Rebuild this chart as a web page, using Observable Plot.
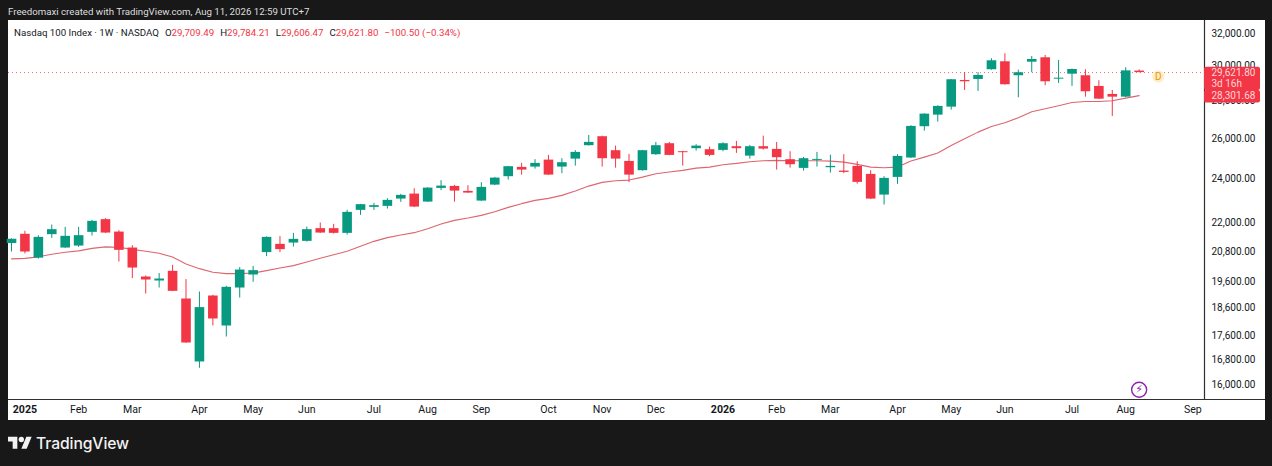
<!DOCTYPE html>
<html>
<head>
<meta charset="utf-8">
<script src="https://cdn.jsdelivr.net/npm/d3@7"></script>
<script src="https://cdn.jsdelivr.net/npm/@observablehq/plot@0.6"></script>
<style>
  html, body { margin: 0; padding: 0; background: #181818; width: 1272px; height: 466px; overflow: hidden; font-family: Roboto, sans-serif; }
  #head { height: 20px; line-height: 24px; padding-left: 8px; font-size: 9.7px; color: #dedede; white-space: nowrap; box-sizing: border-box; }
  #chart { position: relative; margin-left: 8px; width: 1257px; height: 400px; background: #fff; }
  #chart svg { display: block; }
  #legend { position: absolute; left: 6px; top: 6px; font-size: 9.7px; line-height: 14px; color: #131722; white-space: nowrap; }
  #legend span.v { color: #f23645; }
  #legend span.g { margin-left: 6px; }
  #foot { display: flex; align-items: center; height: 46px; padding-left: 8px; color: #f2f2f2; font-family: Inter, sans-serif; font-size: 15.7px; font-weight: 500; letter-spacing: -0.1px; }
  #foot svg { margin-right: 4px; }
</style>
</head>
<body>
<div id="head">Freedomaxi created with TradingView.com, Aug 11, 2026 12:59 UTC+7</div>
<div id="chart">
  <div id="legend">Nasdaq 100 Index · 1W · NASDAQ<span class="g">O</span><span class="v">29,709.49</span><span class="g">H</span><span class="v">29,784.21</span><span class="g">L</span><span class="v">29,606.47</span><span class="g">C</span><span class="v">29,621.80</span><span class="g v">−100.50 (−0.34%)</span></div>
</div>
<div id="foot"><svg width="24" height="19" viewBox="0 0 36 28" fill="#f2f2f2"><path d="M14 22H7V11H0V4h14v18zM28 22h-8l7.5-18h8L28 22z"/><circle cx="20" cy="8" r="4"/></svg>TradingView</div>
<script>
const firstWeek = "2024-12-30";
const opens = [21130,21520,20530,21505,20944,21026,21603,22152,21615,20944,19779,19623,20002,18937,16722,19050,17954,19353,19857,20755,21097,21151,21222,21761,21761,21560,22562,22696,22741,23071,23300,22934,23563,23656,23424,22980,23717,24114,24561,24576,24918,24576,24967,25637,26096,25385,24854,24402,25185,25738,25335,25486,25435,25400,25586,25115,25586,25450,24938,24513,24903,24546,24382,24610,24224,23254,24081,25021,26617,27233,27667,29164,29222,29787,30261,29437,30237,30500,29239,29528,29437,28821,28369,28218,29709.49];
const highs = [21330,21650,21460,21917,21817,21817,22121,22195,21675,21043,19818,19912,20240,19677,19200,19076,19419,20148,20200,21410,21420,21560,21830,22004,21947,22562,22831,22876,23089,23286,23548,23595,23925,23703,23689,23830,24081,24610,24756,24938,25150,24987,25385,26163,26127,25617,25200,25400,25804,25804,25350,25687,25566,25788,25855,25652,26127,25804,25335,25051,25300,25165,25185,24839,24402,24114,25185,26669,27309,27744,29222,29629,29612,30440,30743,29764,30580,30640,30339,29823,29787,29147,28594,29906,29784.21];
const lows = [20780,20700,20490,21349,20931,20973,21445,21560,20373,19716,19125,19353,19216,17351,16515,17954,17568,18974,19573,20591,20755,20986,21193,21560,21530,21488,22340,22562,22620,22921,22683,22921,23456,22934,23332,22966,23689,23953,24190,24478,24176,24258,24624,25620,24576,24527,23830,24382,25150,25135,24624,25365,25086,25335,25250,24967,25415,24430,24527,24382,24576,24287,24258,23764,23057,22800,23750,25002,26386,26860,27503,28594,28538,29764,28895,28183,29612,28861,28992,28821,28218,28090,27163,28183,29606.47];
const closes = [21310,20780,21390,21718,21433,21462,22077,21573,20849,20132,19662,19701,19227,17361,18618,18204,19380,20053,20029,21390,20878,21306,21718,21573,21560,22473,22818,22773,23012,23240,22709,23577,23670,23438,23346,23610,24048,24595,24430,24756,24190,24790,25300,25804,24987,24967,24190,25385,25637,25150,25285,25617,25150,25738,25486,25586,25466,25036,24692,24987,24952,24610,24320,23845,23071,24034,25101,26633,27287,27705,29205,29089,29454,30321,28918,29612,30399,29089,29296,29805,28520,28107,28218,29722.30,29621.80];
const movingAverage = [20502,20522,20583,20685,20767,20828,20931,20993,20973,20890,20808,20726,20575,20292,20108,19963,19912,19912,19935,20029,20132,20228,20373,20522,20664,20808,21014,21222,21378,21488,21590,21761,21960,22121,22222,22340,22504,22696,22863,23012,23103,23240,23438,23670,23845,23925,23953,24095,24258,24336,24416,24527,24576,24692,24756,24839,24888,24903,24888,24888,24888,24869,24820,24707,24576,24546,24576,24869,25066,25265,25652,25993,26334,26633,26827,27093,27417,27581,27744,27925,27980,27980,28018,28163,28301.68];
const priceTicks = [32000,30000,28000,26000,24000,22000,20800,19600,18600,17600,16800,16000];
const monthTicks = ["2025-02-03","2025-03-03","2025-04-07","2025-05-05","2025-06-02","2025-07-07","2025-08-04","2025-09-01","2025-10-06","2025-11-03","2025-12-01","2026-02-02","2026-03-02","2026-04-06","2026-05-04","2026-06-01","2026-07-06","2026-08-03","2026-09-07"];
const yearTicks = ["2025-01-06","2026-01-05"];
const lastPrice = 29621.80;
const lastAverage = 28301.68;
const countdown = "3d 16h";
const domainX = ["2024-12-28T10:30Z","2026-09-13T02:00Z"];
const domainY = [15527,32832];

const GREEN = "#089981", RED = "#f23645", INK = "#131722", EDGE = "#2f2f2f";
const FS = 10.6, FSY = 10;
const start = new Date(firstWeek);
const candles = opens.map((o, i) => ({
  date: d3.utcWeek.offset(start, i), open: o, high: highs[i], low: lows[i], close: closes[i], ma: movingAverage[i]
}));
const up = candles.filter(d => d.close >= d.open);
const down = candles.filter(d => d.close < d.open);
const xEnd = new Date(domainX[1]);
const lastDate = candles[candles.length - 1].date;
const money = d3.format(",.2f");
const labelTop = 29940, labelMid = 28594, labelBottom = 27890, labelCentre = 28992;
const flashY = 15830;
const dividendDate = new Date("2026-08-20");
const dividendY = 29396;
const labelInset = -56;

const chart = Plot.plot({
  width: 1257, height: 400,
  marginLeft: 0, marginRight: 61, marginTop: 0, marginBottom: 21,
  style: { background: "#fff", fontFamily: "Roboto, sans-serif", fontSize: FS + "px", color: INK, overflow: "visible" },
  x: { type: "utc", domain: domainX.map(d => new Date(d)) },
  y: { type: "log", domain: domainY },
  marks: [
    Plot.axisX({ ticks: monthTicks.map(d => new Date(d)), tickSize: 0, tickPadding: 6, tickFormat: d3.utcFormat("%b"), label: null, fontSize: FS }),
    Plot.axisX({ ticks: yearTicks.map(d => new Date(d)), tickSize: 0, tickPadding: 6, tickFormat: d3.utcFormat("%Y"), label: null, fontWeight: 700, fontSize: FS }),
    Plot.axisY({ anchor: "right", ticks: priceTicks, tickSize: 0, tickPadding: 7, tickFormat: money, label: null, fontSize: FSY }),
    Plot.ruleX([xEnd], { stroke: EDGE, strokeWidth: 1.2 }),
    Plot.ruleY([domainY[0]], { x1: new Date(domainX[0]), x2: xEnd, stroke: EDGE, strokeWidth: 1.2, insetRight: -61 }),
    Plot.ruleY([lastPrice], { stroke: RED, strokeDasharray: "1 3", strokeOpacity: 0.75, strokeWidth: 1 }),
    Plot.line(candles, { x: "date", y: "ma", stroke: "#dd6670", strokeWidth: 1.1 }),
    Plot.ruleX(up, { x: "date", y1: "low", y2: "high", stroke: GREEN, strokeWidth: 1 }),
    Plot.ruleX(down, { x: "date", y1: "low", y2: "high", stroke: RED, strokeWidth: 1 }),
    Plot.ruleX(up, { x: "date", y1: "open", y2: "close", stroke: GREEN, strokeWidth: 9.6 }),
    Plot.ruleX(down, { x: "date", y1: "open", y2: "close", stroke: RED, strokeWidth: 9.6 }),
    Plot.dot([{ x: dividendDate, y: dividendY }], { x: "x", y: "y", r: 6, fill: "#ffe9b8", fillOpacity: 0.85 }),
    Plot.text([{ x: dividendDate, y: dividendY }], { x: "x", y: "y", text: () => "D", fill: "#e8960f", fontSize: 10 }),
    Plot.dot([{ x: lastDate, y: flashY }], { x: "x", y: "y", r: 7.5, stroke: "#8e24aa", strokeWidth: 1.4, fill: "#fff" }),
    Plot.text([{ x: lastDate, y: flashY }], { x: "x", y: "y", text: () => "⚡", fill: "#8e24aa", fontSize: 11, fontFamily: "DejaVu Sans" }),
    Plot.rect([{ a: labelTop, b: labelMid }, { a: labelMid, b: labelBottom }], { x1: xEnd, x2: xEnd, y1: "a", y2: "b", fill: RED, insetRight: labelInset, rx: 2 }),
    Plot.text([lastPrice], { x: xEnd, y: d => d, text: money, dx: 7, textAnchor: "start", fill: "#ffd5d9", fontSize: FSY }),
    Plot.text([labelCentre], { x: xEnd, y: d => d, text: () => countdown, dx: 7, textAnchor: "start", fill: "#ffd5d9", fontSize: FSY }),
    Plot.text([lastAverage], { x: xEnd, y: d => d, text: money, dx: 7, textAnchor: "start", fill: "#ffd5d9", fontSize: FSY })
  ]
});
document.getElementById("chart").prepend(chart);
</script>
</body>
</html>
